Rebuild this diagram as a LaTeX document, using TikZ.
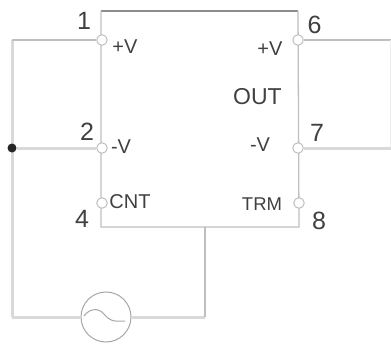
\documentclass[tikz,border=0pt]{standalone}
\usepackage{fontspec}
\setmainfont{Liberation Sans}
\definecolor{wirec}{gray}{0.75}
\definecolor{thickc}{gray}{0.85}
\definecolor{faintc}{gray}{0.93}
\definecolor{textc}{gray}{0.25}
\tikzset{
  wire/.style={draw=wirec,line width=1.3pt},
  thickwire/.style={draw=thickc,line width=3pt},
  topwire/.style={draw=gray!90,line width=1.6pt},
  pin/.style={circle,draw=wirec,fill=white,line width=1pt,minimum size=10.5pt,inner sep=0pt},
  junction/.style={circle,fill=black!85,minimum size=9pt,inner sep=0pt},
  source/.style={circle,draw=gray!70,fill=white,line width=1pt,minimum size=50pt,inner sep=0pt},
  num/.style={text=textc,font=\fontsize{25}{25}\selectfont,inner sep=0pt},
  lab/.style={text=textc,font=\fontsize{20}{20}\selectfont,inner sep=0pt}
}
\begin{document}
\begin{tikzpicture}[x=1pt,y=-1pt]
\useasboundingbox (0,0) rectangle (391,345);
\coordinate (tl) at (101,11);
\coordinate (tr) at (298,11);
\coordinate (bl) at (101,227);
\coordinate (br) at (299,227);
\coordinate (tap) at (205,227);
\coordinate (tapb) at (205,317);
\coordinate (ol) at (12,40);
\coordinate (olb) at (12,317);
\coordinate (r6) at (390.5,40);
\coordinate (r7) at (390.5,148);
\coordinate (r7e) at (391,148);
% box
\draw[topwire] (tl) -- (tr);
\draw[wire] (tl) -- (bl) -- (br) -- (tr);
% wires under the pins
\draw[thickwire] (ol) -- (olb);
% pins
\node[pin] (p1) at (102,40) {};
\node[pin] (p2) at (102,148) {};
\node[pin] (p4) at (102,203) {};
\node[pin] (p6) at (298,40) {};
\node[pin] (p7) at (298,148) {};
\node[pin] (p8) at (299,203) {};
\node[junction] (dot) at (12,148) {};
\node[source] (ac) at (106,317) {};
% wires
\draw[wire] (p1) -- (ol);
\draw[thickwire] (olb) -- (ac);
\draw[thickwire] (dot) -- (p2);
\draw[thickwire] (ac) -- (tapb);
\draw[wire] (tapb) -- (tap);
\draw[wire] (p6) -- (r6);
\draw[draw=faintc,line width=1pt] (r6) -- (r7);
\draw[thickwire] (p7) -- (r7e);
% sine
\coordinate (s1) at (84,316);
\coordinate (s2) at (125,321);
\draw[draw=gray!70,line width=1pt] (s1) .. controls (89,309) and (98,307) .. (104,314) .. controls (109,320) and (112,322) .. (s2);
% labels
\node[num] (n1) at (84,21) {1};
\node[num] (n2) at (87,132) {2};
\node[num] (n4) at (82,219) {4};
\node[num] (n6) at (314.5,25) {6};
\node[num] (n7) at (317,133) {7};
\node[num] (n8) at (319,221) {8};
\node[lab] (lv1) at (125,47) {+V};
\node[lab] (lv2) at (121,147) {-V};
\node[lab] (lc) at (130,202) {CNT};
\node[lab] (rv1) at (270,49) {+V};
\node[lab,font=\fontsize{23}{23}\selectfont] (lo) at (257.5,97) {OUT};
\node[lab] (rv2) at (260,145) {-V};
\node[lab,font=\fontsize{18.5}{19}\selectfont] (lt) at (262,204) {TRM};
\end{tikzpicture}
\end{document}
